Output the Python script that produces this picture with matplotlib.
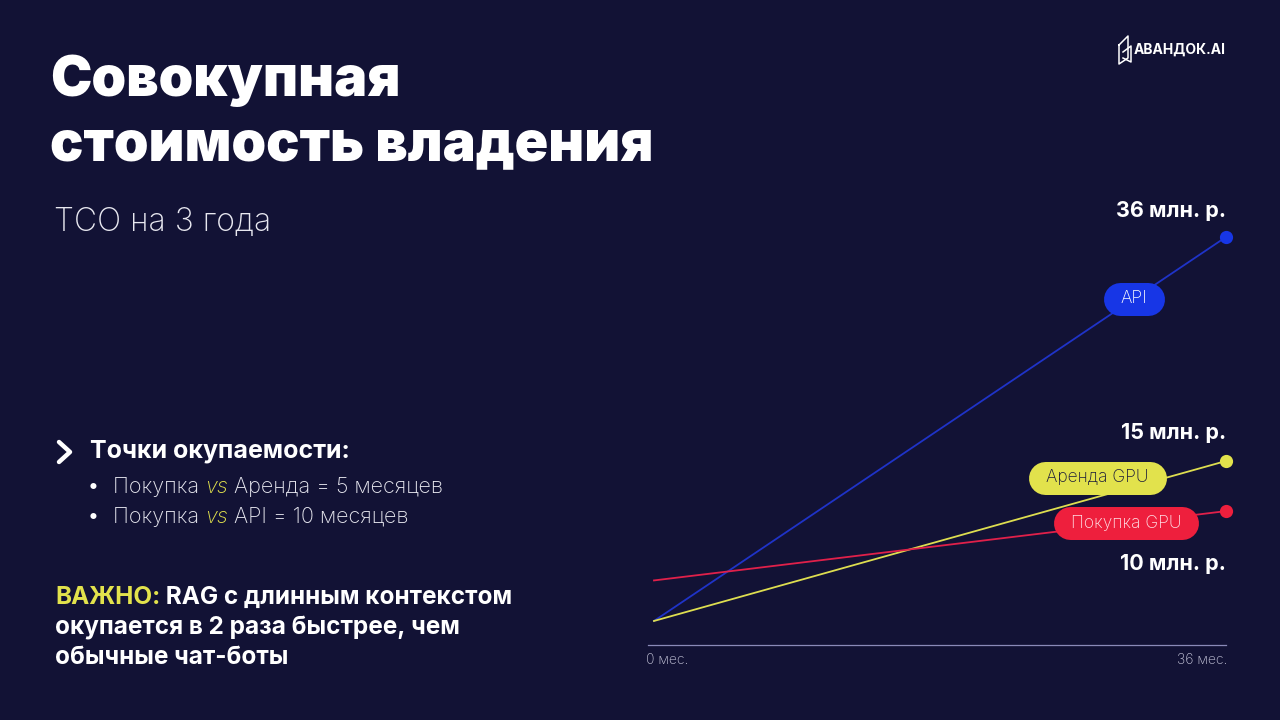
import matplotlib
matplotlib.use("Agg")
import matplotlib.pyplot as plt
from matplotlib.lines import Line2D
from matplotlib.transforms import IdentityTransform

# --- данные ---
months = [0, 36]
month_labels = ["0 мес.", "36 мес."]
series_names = ["API", "Аренда GPU", "Покупка GPU"]
api_cost = [0, 36]        # млн. р.
rent_cost = [0, 15]
buy_cost = [3.8, 10.3]
end_labels = ["36 млн. р.", "15 млн. р.", "10 млн. р."]
pill_month = [30.2, 27.9, 29.7]   # where the name pill sits on each line

BG = "#121235"
BLUE = "#1736e6"
YELLOW = "#e2e24c"
RED = "#ee1f3d"
WHITE = "#ffffff"
LIGHT = "#e8e8f0"
FONT = ["Inter", "DejaVu Sans"]

W, H = 1280, 720
fig = plt.figure(figsize=(12.8, 7.2), dpi=100, facecolor=BG)

# холст в пикселях для всего текста слева
cv = fig.add_axes([0, 0, 1, 1])
cv.set_xlim(0, W)
cv.set_ylim(H, 0)
cv.axis("off")
cv.set_facecolor("none")

# --- заголовок ---
cv.text(50, 81, "Совокупная", color=WHITE, fontsize=40, fontweight="black",
        family=FONT, va="center", ha="left")
cv.text(50, 145, "стоимость владения", color=WHITE, fontsize=40, fontweight="black",
        family=FONT, va="center", ha="left")
cv.text(54, 222, "TCO на 3 года", color=LIGHT, fontsize=23, fontweight="light",
        family=FONT, va="center", ha="left")

# логотип
icon = [[(1119, 45), (1119, 64), (1128, 58), (1128, 36), (1119, 45)],
        [(1123, 52), (1131, 46), (1131, 62), (1123, 58)]]
for pts in icon:
    cv.plot([p[0] for p in pts], [p[1] for p in pts], color=WHITE, lw=1.1)
cv.text(1134, 50, "АВАНДОК.AI", color=WHITE, fontsize=10, fontweight="bold",
        family=FONT, va="center", ha="left")

# --- левый блок ---
cv.plot([59, 70, 59], [442, 452, 462], color=WHITE, lw=3.2,
        solid_capstyle="round", solid_joinstyle="round")
cv.text(90, 451, "Точки окупаемости:", color=WHITE, fontsize=18, fontweight="bold",
        family=FONT, va="center", ha="left")

bullets = [("Покупка ", "vs", " Аренда = 5 месяцев"),
           ("Покупка ", "vs", " API = 10 месяцев")]
for i, (a, b, c) in enumerate(bullets):
    y = 487 + 30 * i
    cv.text(88, y, "•", color=WHITE, fontsize=14, family=FONT, va="center")
    t1 = cv.text(113, y, a, color=LIGHT, fontsize=15.5, fontweight="light",
                 family=FONT, va="center")
    t2 = cv.annotate(b, xy=(1, 0), xycoords=t1, va="bottom", ha="left", color=YELLOW,
                     fontsize=15.5, fontweight="light", style="italic", family=FONT)
    cv.annotate(c, xy=(1, 0), xycoords=t2, va="bottom", ha="left", color=LIGHT,
                fontsize=15.5, fontweight="light", family=FONT)

t = cv.text(55, 597, "ВАЖНО:", color=YELLOW, fontsize=17.5, fontweight="bold",
            family=FONT, va="center")
cv.annotate(" RAG с длинным контекстом", xy=(1, 0), xycoords=t, va="bottom", ha="left",
            color=WHITE, fontsize=17.5, fontweight="bold", family=FONT)
cv.text(55, 627, "окупается в 2 раза быстрее, чем", color=WHITE, fontsize=17.5,
        fontweight="bold", family=FONT, va="center")
cv.text(55, 657, "обычные чат-боты", color=WHITE, fontsize=17.5,
        fontweight="bold", family=FONT, va="center")

# --- график ---
# x: 0 мес. -> 654 px, 36 мес. -> 1226 px ; y: 0 -> 621 px, 36 -> 237 px
ax = fig.add_axes([640 / W, 1 - 660 / H, 600 / W, 460 / H])
ax.set_facecolor("none")
ax.set_xlim(-0.88, 36.88)
ax.set_ylim(-3.66, 39.47)
ax.axis("off")

ax.plot([-0.38, months[-1]], [-2.25, -2.25], color="#8a8ab8", lw=0.9)
ax.text(months[0] - 0.5, -3.7, month_labels[0], color="#c8c8dc", fontsize=10,
        fontweight="light", family=FONT, ha="left", va="center", clip_on=False)
ax.text(months[1] + 0.1, -3.7, month_labels[1], color="#c8c8dc", fontsize=10,
        fontweight="light", family=FONT, ha="right", va="center", clip_on=False)

colors = [BLUE, YELLOW, RED]
line_colors = ["#1f33c8", "#dede50", "#e0204a"]
data = [api_cost, rent_cost, buy_cost]
for vals, col, lc in zip(data, colors, line_colors):
    ax.plot(months, vals, color=lc, lw=1.3, zorder=2)
    ax.plot(months[-1], vals[-1], "o", color=col, ms=9.5, mec="none", zorder=3)

# подписи значений
offsets = [(0, 19), (0, 20), (0, -38)]
for vals, lab, off in zip(data, end_labels, offsets):
    ax.annotate(lab, xy=(months[-1], vals[-1]), xytext=off, textcoords="offset points",
                ha="right", va="center", color=WHITE, fontsize=15.5, fontweight="bold",
                family=FONT)

# плашки с названиями (капсулы)
pill_text = [WHITE, "#1a1a3a", "#ffe0e6"]
pill_dy = [0, 1.8, 0]
pills = []
for name, vals, m, col, tc, dy in zip(series_names, data, pill_month, colors, pill_text, pill_dy):
    yv = vals[0] + (vals[1] - vals[0]) * (m - months[0]) / (months[1] - months[0]) + dy
    txt = ax.text(m, yv, name, color=tc, fontsize=12.5, fontweight="light",
                  family=FONT, ha="center", va="center", zorder=5)
    pills.append((txt, col, yv, m))

fig.canvas.draw()
for txt, col, yv, m in pills:
    bb = txt.get_window_extent()
    yc = ax.transData.transform((m, yv))[1]
    cap = Line2D([bb.x0 - 1, bb.x1 + 1], [yc, yc], transform=IdentityTransform(),
                 color=col, lw=33 * 0.72, solid_capstyle="round", zorder=4, clip_on=False)
    ax.add_line(cap)

fig.savefig("out.png", dpi=100, facecolor=BG)
